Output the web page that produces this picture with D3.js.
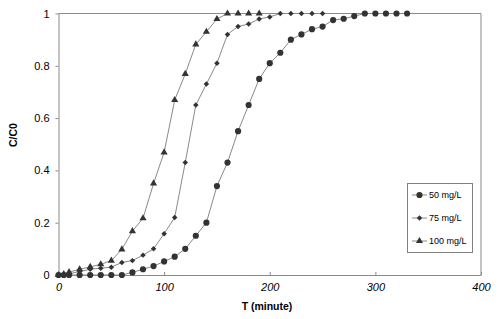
<!DOCTYPE html>
<html><head><meta charset="utf-8">
<script src="https://cdn.jsdelivr.net/npm/d3@7"></script>
<style>body{margin:0;background:#fff}svg{display:block;font-family:Arial,"Liberation Sans",sans-serif}</style>
</head><body><svg id="c" width="500" height="319"></svg>
<script>
const t50 = [0,5,10,20,30,40,50,60,70,80,90,100,110,120,130,140,150,160,170,180,190,200,210,220,230,240,250,260,270,280,290,300,310,320,330];
const v50 = [0,0,0,0,0,0,0,0,0.01,0.022,0.034,0.052,0.07,0.10,0.15,0.20,0.34,0.43,0.55,0.65,0.75,0.81,0.85,0.90,0.92,0.94,0.95,0.975,0.98,0.99,1,1,1,1,1];
const t75 = [0,5,10,20,30,40,50,60,70,80,90,100,110,120,130,140,150,160,170,180,190,200,210,220,230,240,250];
const v75 = [0,0.002,0.005,0.013,0.022,0.026,0.03,0.048,0.055,0.076,0.10,0.158,0.22,0.43,0.65,0.73,0.81,0.92,0.95,0.96,0.979,0.987,1,1,1,1,1];
const t100 = [0,5,10,20,30,40,50,60,70,80,90,100,110,120,130,140,150,160,170,180,190];
const v100 = [0,0.003,0.011,0.022,0.031,0.041,0.055,0.098,0.168,0.217,0.35,0.469,0.669,0.769,0.882,0.93,0.979,1,1,1,1];
const seriesNames = ["50 mg/L","75 mg/L","100 mg/L"];
const xTicks = [0,100,200,300,400];
const yTicks = [0,0.2,0.4,0.6,0.8,1];

const svg = d3.select("#c");
const L=58.5,R=481,T=13.5,B=275;
const x = d3.scaleLinear().domain([0,400]).range([L,R]);
const y = d3.scaleLinear().domain([0,1]).range([B,T]);
const ax="#8a8a8a";

svg.append("line").attr("x1",L).attr("x2",R).attr("y1",T).attr("y2",T).attr("stroke",ax);
svg.append("line").attr("x1",R).attr("x2",R).attr("y1",T).attr("y2",B).attr("stroke",ax);

const gx = svg.append("g").attr("transform",`translate(0,${B})`)
  .call(d3.axisBottom(x).tickValues(xTicks).tickFormat(d3.format("d")).tickSizeInner(-3).tickSizeOuter(0).tickPadding(8));
gx.select(".domain").attr("stroke",ax);
gx.selectAll(".tick line").attr("stroke",ax);
gx.selectAll("text").attr("font-size",11).attr("font-style","italic").attr("fill","#000").attr("font-family",'Arial,"Liberation Sans",sans-serif');

const gy = svg.append("g").attr("transform",`translate(${L},0)`)
  .call(d3.axisLeft(y).tickValues(yTicks).tickFormat(d=>d===0||d===1?String(d):d3.format(".1f")(d)).tickSizeInner(3).tickSizeOuter(0).tickPadding(6));
gy.select(".domain").attr("stroke",ax);
gy.selectAll(".tick line").attr("stroke",ax);
gy.selectAll("text").attr("font-size",11).attr("fill","#000").attr("font-family",'Arial,"Liberation Sans",sans-serif');

svg.append("text").attr("x",267).attr("y",310).attr("text-anchor","middle").attr("font-size",10.5).attr("font-weight","bold").text("T (minute)");
svg.append("text").attr("transform","translate(17,135) rotate(-90)").attr("text-anchor","middle").attr("font-size",10.5).attr("font-weight","bold").text("C/C0");

const mk = "#333333";
const series = [
  {t:t50,v:v50,sym:d3.symbolCircle,size:30,rot:0},
  {t:t75,v:v75,sym:d3.symbolSquare,size:15,rot:45},
  {t:t100,v:v100,sym:d3.symbolTriangle,size:22,rot:0}
];
const line = d3.line().x(d=>x(d[0])).y(d=>y(d[1]));
series.forEach(s=>{
  const pts = s.t.map((t,i)=>[t,s.v[i]]);
  svg.append("path").attr("d",line(pts)).attr("fill","none").attr("stroke","#8a8a8a").attr("stroke-width",1);
});
series.forEach(s=>{
  const pts = s.t.map((t,i)=>[t,s.v[i]]);
  svg.append("g").selectAll("path").data(pts).join("path")
    .attr("transform",d=>`translate(${x(d[0])},${y(d[1])}) rotate(${s.rot})`)
    .attr("d",d3.symbol().type(s.sym).size(s.size)).attr("fill",mk);
});

const lg = svg.append("g");
lg.append("rect").attr("x",407.5).attr("y",183.5).attr("width",65).attr("height",69).attr("fill","#fff").attr("stroke","#808080");
seriesNames.forEach((n,i)=>{
  const yy = 195 + i*23;
  lg.append("line").attr("x1",412).attr("x2",427).attr("y1",yy).attr("y2",yy).attr("stroke","#8a8a8a");
  lg.append("path").attr("transform",`translate(419.5,${yy}) rotate(${series[i].rot})`).attr("d",d3.symbol().type(series[i].sym).size(series[i].size)).attr("fill",mk);
  lg.append("text").attr("x",429).attr("y",yy+3.2).attr("font-size",9).attr("fill","#000").text(n);
});
</script></body></html>
